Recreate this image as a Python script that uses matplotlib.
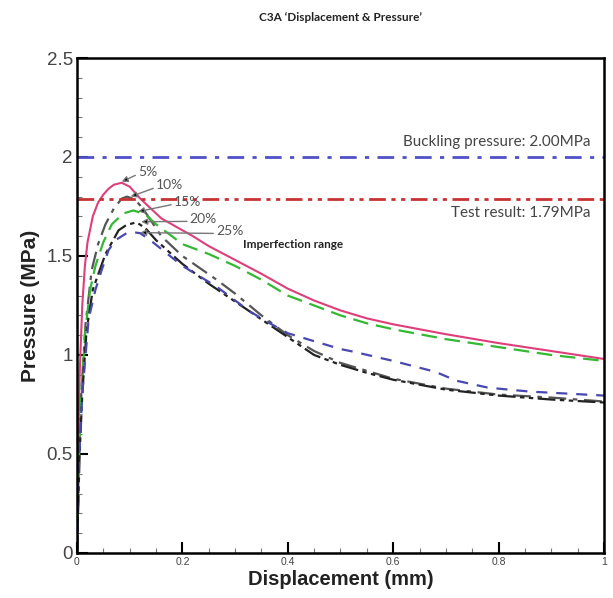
import matplotlib
matplotlib.use("Agg")
import matplotlib.pyplot as plt
from matplotlib.ticker import MultipleLocator, FormatStrFormatter

# curves (displacement mm, pressure MPa)
x_5 = [0, 0.002, 0.005, 0.01, 0.015, 0.02, 0.03, 0.04, 0.05, 0.06, 0.07, 0.085, 0.1, 0.12, 0.14, 0.16,
       0.18, 0.2, 0.22, 0.25, 0.3, 0.35, 0.4, 0.45, 0.5, 0.55, 0.6, 0.7, 0.8, 0.9, 1.0]
p_5 = [0, 0.5, 0.9, 1.25, 1.45, 1.57, 1.7, 1.77, 1.81, 1.84, 1.86, 1.87, 1.85, 1.79, 1.74, 1.69,
       1.66, 1.63, 1.6, 1.55, 1.48, 1.41, 1.335, 1.275, 1.225, 1.185, 1.155, 1.105, 1.06, 1.02, 0.98]

x_10 = [0, 0.004, 0.008, 0.016, 0.028, 0.04, 0.054, 0.07, 0.085, 0.095, 0.11, 0.125, 0.14, 0.16,
        0.2, 0.265, 0.3, 0.35, 0.4, 0.45, 0.5, 0.55, 0.6, 0.7, 0.8, 0.9, 1.0]
p_10 = [0, 0.5, 0.8, 1.15, 1.43, 1.56, 1.66, 1.74, 1.79, 1.80, 1.785, 1.74, 1.68, 1.6,
        1.5, 1.38, 1.31, 1.2, 1.1, 1.02, 0.96, 0.92, 0.88, 0.83, 0.8, 0.785, 0.765]

x_15 = [0, 0.004, 0.008, 0.016, 0.025, 0.035, 0.05, 0.066, 0.088, 0.107, 0.13, 0.15, 0.2, 0.25,
        0.3, 0.35, 0.4, 0.45, 0.5, 0.55, 0.6, 0.7, 0.8, 0.9, 1.0]
p_15 = [0, 0.5, 0.8, 1.13, 1.33, 1.45, 1.57, 1.66, 1.715, 1.73, 1.71, 1.66, 1.56, 1.51,
        1.45, 1.38, 1.3, 1.25, 1.2, 1.16, 1.13, 1.08, 1.04, 1.0, 0.97]

x_20 = [0, 0.005, 0.01, 0.018, 0.03, 0.054, 0.079, 0.094, 0.113, 0.13, 0.15, 0.2, 0.25, 0.3,
        0.35, 0.4, 0.45, 0.5, 0.55, 0.6, 0.7, 0.8, 0.9, 1.0]
p_20 = [0, 0.5, 0.8, 1.12, 1.33, 1.51, 1.63, 1.657, 1.67, 1.64, 1.58, 1.46, 1.36, 1.27,
        1.18, 1.09, 1.0, 0.95, 0.91, 0.875, 0.825, 0.795, 0.775, 0.76]

x_25 = [0, 0.003, 0.01, 0.022, 0.035, 0.047, 0.06, 0.073, 0.094, 0.107, 0.12, 0.139, 0.2, 0.265,
        0.328, 0.366, 0.4, 0.442, 0.5, 0.524, 0.6, 0.68, 0.72, 0.78, 0.86, 1.0]
p_25 = [0, 0.42, 0.8, 1.18, 1.33, 1.43, 1.53, 1.58, 1.615, 1.62, 1.615, 1.58, 1.45, 1.345,
        1.22, 1.16, 1.11, 1.076, 1.03, 1.017, 0.97, 0.915, 0.87, 0.835, 0.815, 0.795]

buckling = 2.00
test_result = 1.79

fig = plt.figure(figsize=(6.13, 5.98), dpi=100)
ax = fig.add_axes([0.1256, 0.0753, 0.8597, 0.8277])

ax.plot(x_5, p_5, color="#dd3f7a", lw=1.5, ls="-")
ax.plot(x_10, p_10, color="#555555", lw=1.6, dashes=(8, 3, 2, 3))
ax.plot(x_15, p_15, color="#33b833", lw=1.6, dashes=(7, 3.5))
ax.plot(x_20, p_20, color="#222222", lw=1.6, dashes=(8, 2, 2, 2, 2, 2))
ax.plot(x_25, p_25, color="#4848b0", lw=1.6, dashes=(5, 4))

ax.axhline(buckling, color="#5050c8", lw=2, dashes=(6, 3, 1.5, 3))
ax.axhline(test_result, color="#c83232", lw=2, dashes=(6, 2, 1.5, 2, 1.5, 2))

ax.text(0.975, 2.04, "Buckling pressure: 2.00MPa", family="Lato", fontsize=11,
        color="#444444", ha="right", va="bottom")
ax.text(0.975, 1.755, "Test result: 1.79MPa", family="Lato", fontsize=11,
        color="#444444", ha="right", va="top")

labels = ["5%", "10%", "15%", "20%", "25%"]
text_pos = [(0.116, 1.926), (0.150, 1.859), (0.184, 1.774), (0.214, 1.687), (0.264, 1.626)]
dot_pos = [(0.085, 1.875), (0.102, 1.80), (0.116, 1.724), (0.122, 1.673), (0.12, 1.618)]
for lab, tp, dp in zip(labels, text_pos, dot_pos):
    ax.annotate(lab, xy=dp, xytext=tp, family="Lato", fontsize=10, color="#555555",
                ha="left", va="center",
                arrowprops=dict(arrowstyle="-|>,head_length=0.35,head_width=0.18",
                                ec="#777777", fc="black", lw=1, relpos=(0, 0.3),
                                shrinkA=0, shrinkB=0))
ax.text(0.315, 1.56, "Imperfection range", family="Lato", fontsize=8.5,
        fontweight="bold", color="#222222", ha="left", va="center")

ax.set_xlim(0, 1)
ax.set_ylim(0, 2.5)
ax.xaxis.set_major_locator(MultipleLocator(0.2))
ax.xaxis.set_minor_locator(MultipleLocator(0.05))
ax.yaxis.set_major_locator(MultipleLocator(0.5))
ax.yaxis.set_minor_locator(MultipleLocator(0.1))
ax.xaxis.set_major_formatter(FormatStrFormatter("%g"))
ax.yaxis.set_major_formatter(FormatStrFormatter("%g"))
ax.tick_params(which="both", direction="in", top=False, right=False, width=1.5)
ax.tick_params(which="major", length=8)
ax.tick_params(which="minor", length=3.5, width=0.8, color="#777777")
ax.tick_params(axis="y", labelsize=13.5, labelcolor="#444444", pad=3)
ax.tick_params(axis="x", labelsize=7.5, labelcolor="#444444", pad=3)
for lbl in ax.get_xticklabels() + ax.get_yticklabels():
    lbl.set_family("Liberation Sans")
for sp in ax.spines.values():
    sp.set_linewidth(1.8)

ax.set_xlabel("Displacement (mm)", family="Liberation Sans", fontsize=14.5,
              fontweight="bold", color="#222222", labelpad=2)
ax.set_ylabel("Pressure (MPa)", family="Liberation Sans", fontsize=15,
              fontweight="bold", color="#222222", labelpad=5)

fig.text(0.555, 0.97, "C3A \u2018Displacement & Pressure\u2019", family="Lato",
         fontsize=8.5, fontweight="bold", color="#222222", ha="center", va="center")

fig.savefig("out.png", dpi=100)
